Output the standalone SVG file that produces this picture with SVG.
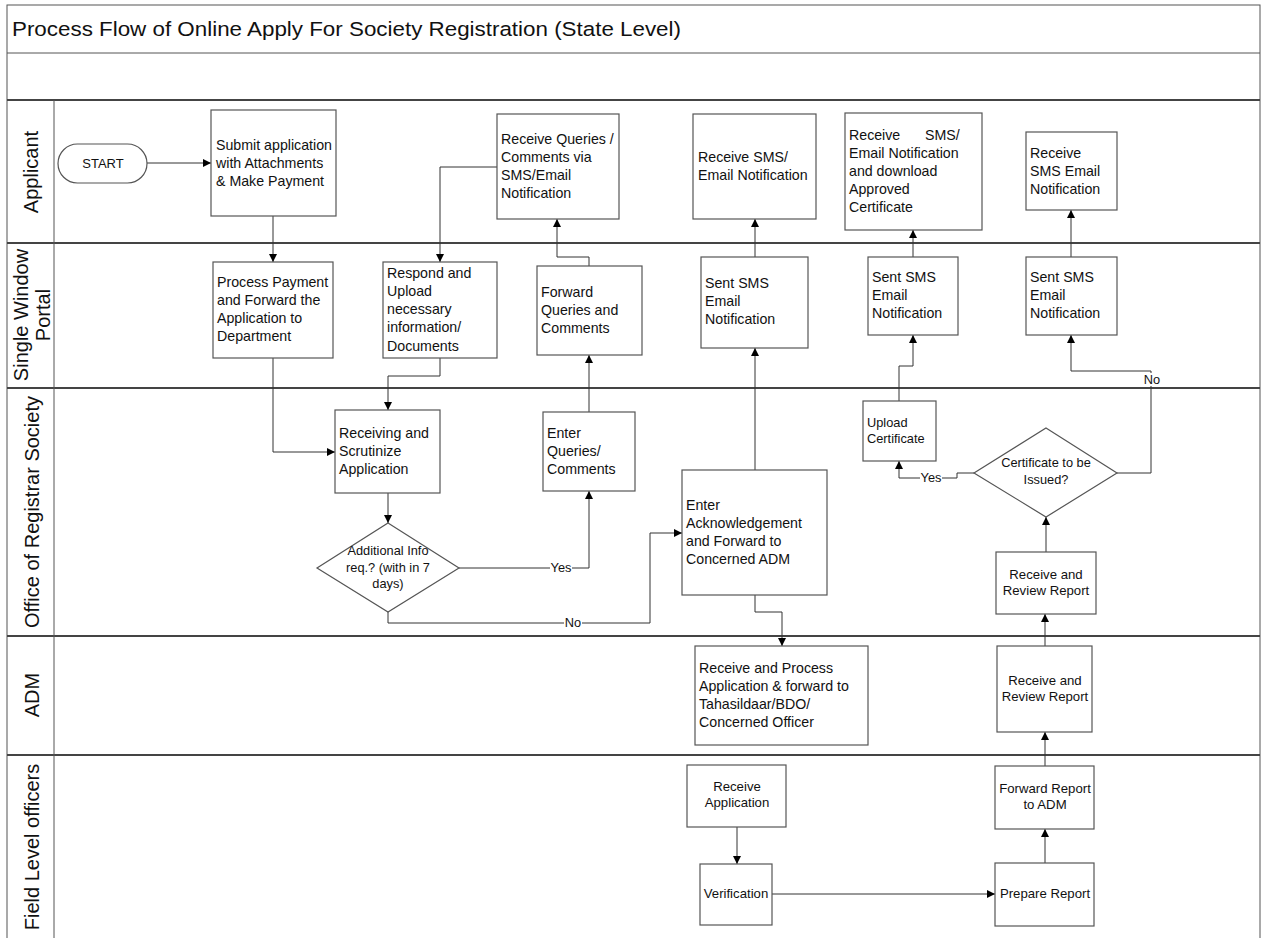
<svg xmlns="http://www.w3.org/2000/svg" width="1263" height="938" viewBox="0 0 1263 938">
<style>
text{font-family:"Liberation Sans",Arial,sans-serif;fill:#111}
.t{font-size:14.2px}
.s{font-size:12.8px}
.m{font-size:13.2px}
.lane{font-size:20px}
.box{fill:#fff;stroke:#555;stroke-width:1.2}
.frame{fill:none;stroke:#555;stroke-width:1}
.sep{stroke:#444;stroke-width:2}
.con{fill:none;stroke:#333;stroke-width:1}
.lbl{fill:#fff}
</style>
<defs>
<marker id="arr" markerUnits="userSpaceOnUse" markerWidth="9" markerHeight="8" viewBox="0 0 10 10" refX="10" refY="5" orient="auto"><path d="M0,0 L10,5 L0,10 z" fill="#000"/></marker>
</defs>
<rect width="1263" height="938" fill="#fff"/>
<g id="frame">
<rect class="frame" x="7" y="5" width="1253" height="940"/>
<line class="frame" x1="7" y1="53" x2="1260" y2="53"/>
<line class="sep" x1="7" y1="100" x2="1260" y2="100"/>
<line class="sep" x1="7" y1="243" x2="1260" y2="243"/>
<line class="sep" x1="7" y1="388" x2="1260" y2="388"/>
<line class="sep" x1="7" y1="636" x2="1260" y2="636"/>
<line class="sep" x1="7" y1="755" x2="1260" y2="755"/>
<line class="frame" x1="54" y1="100" x2="54" y2="938"/>
<text x="12" y="36" style="font-size:20.5px" textLength="669" lengthAdjust="spacingAndGlyphs">Process Flow of Online Apply For Society Registration (State Level)</text>
</g>
<g id="lanes">
<text class="lane" transform="translate(38,172) rotate(-90)" text-anchor="middle">Applicant</text>
<text class="lane" transform="translate(28,315) rotate(-90)" text-anchor="middle">Single Window</text>
<text class="lane" transform="translate(50,315) rotate(-90)" text-anchor="middle">Portal</text>
<text class="lane" transform="translate(39,512) rotate(-90)" text-anchor="middle">Office of Registrar Society</text>
<text class="lane" transform="translate(39,695) rotate(-90)" text-anchor="middle">ADM</text>
<text class="lane" transform="translate(39,847) rotate(-90)" text-anchor="middle">Field Level officers</text>
</g>
<g id="connectors">
<path class="con" d="M147,163 H211" marker-end="url(#arr)"/>
<path class="con" d="M273,216 V262" marker-end="url(#arr)"/>
<path class="con" d="M273,358 V452 H335" marker-end="url(#arr)"/>
<path class="con" d="M497,167 H440 V262" marker-end="url(#arr)"/>
<path class="con" d="M440,358 V376 H388 V410" marker-end="url(#arr)"/>
<path class="con" d="M388,493 V523" marker-end="url(#arr)"/>
<path class="con" d="M459,568 H589 V491" marker-end="url(#arr)"/>
<path class="con" d="M388,612 V623 H650 V533 H682" marker-end="url(#arr)"/>
<path class="con" d="M589,412 V355" marker-end="url(#arr)"/>
<path class="con" d="M589,266 V257 H557 V219" marker-end="url(#arr)"/>
<path class="con" d="M755,470 V348" marker-end="url(#arr)"/>
<path class="con" d="M755,257 V219" marker-end="url(#arr)"/>
<path class="con" d="M755,595 V612 H782 V646" marker-end="url(#arr)"/>
<path class="con" d="M737,827 V864" marker-end="url(#arr)"/>
<path class="con" d="M772,894 H995" marker-end="url(#arr)"/>
<path class="con" d="M1045,863 V829" marker-end="url(#arr)"/>
<path class="con" d="M1045,766 V732" marker-end="url(#arr)"/>
<path class="con" d="M1045,646 V614" marker-end="url(#arr)"/>
<path class="con" d="M1046,552 V517" marker-end="url(#arr)"/>
<path class="con" d="M974,473 H957 V478 H899 V461" marker-end="url(#arr)"/>
<path class="con" d="M899,401 V366 H913 V335" marker-end="url(#arr)"/>
<path class="con" d="M913,257 V230" marker-end="url(#arr)"/>
<path class="con" d="M1117,473 H1151 V371 H1071 V335" marker-end="url(#arr)"/>
<path class="con" d="M1071,257 V210" marker-end="url(#arr)"/>
<rect class="lbl" x="550" y="561" width="22" height="14"/>
<text class="s" x="561" y="572" text-anchor="middle">Yes</text>
<rect class="lbl" x="564" y="616" width="18" height="14"/>
<text class="s" x="573" y="627" text-anchor="middle">No</text>
<rect class="lbl" x="920" y="471" width="22" height="14"/>
<text class="s" x="931" y="482" text-anchor="middle">Yes</text>
<rect class="lbl" x="1143" y="373" width="18" height="13"/>
<text class="s" x="1152" y="384" text-anchor="middle">No</text>
</g>
<g id="start">
<rect class="box" x="58" y="144" width="89" height="39" rx="19.5"/>
<text x="103" y="168" text-anchor="middle" style="font-size:13px">START</text>
</g>
<g id="submit">
<rect class="box" x="211" y="110" width="125" height="106"/>
<text class="t" x="216" y="150">Submit application</text>
<text class="t" x="216" y="168">with Attachments</text>
<text class="t" x="216" y="186">&amp; Make Payment</text>
</g>
<g id="receive-queries">
<rect class="box" x="497" y="114" width="122" height="105"/>
<text class="t" x="501" y="144">Receive Queries /</text>
<text class="t" x="501" y="162">Comments via</text>
<text class="t" x="501" y="180">SMS/Email</text>
<text class="t" x="501" y="198">Notification</text>
</g>
<g id="receive-sms-1">
<rect class="box" x="693" y="114" width="123" height="105"/>
<text class="t" x="698" y="162">Receive SMS/</text>
<text class="t" x="698" y="180">Email Notification</text>
</g>
<g id="receive-download">
<rect class="box" x="845" y="113" width="137" height="117"/>
<text class="t" x="849" y="140"><tspan x="849">Receive </tspan><tspan x="925">SMS/</tspan></text>
<text class="t" x="849" y="158">Email Notification</text>
<text class="t" x="849" y="176">and download</text>
<text class="t" x="849" y="194">Approved</text>
<text class="t" x="849" y="212">Certificate</text>
</g>
<g id="receive-sms-3">
<rect class="box" x="1026" y="132" width="91" height="78"/>
<text class="t" x="1030" y="158">Receive</text>
<text class="t" x="1030" y="176">SMS Email</text>
<text class="t" x="1030" y="194">Notification</text>
</g>
<g id="process-payment">
<rect class="box" x="213" y="262" width="120" height="96"/>
<text class="t" x="217" y="287">Process Payment</text>
<text class="t" x="217" y="305">and Forward the</text>
<text class="t" x="217" y="323">Application to</text>
<text class="t" x="217" y="341">Department</text>
</g>
<g id="respond">
<rect class="box" x="383" y="262" width="114" height="96"/>
<text class="t" x="387" y="278">Respond and</text>
<text class="t" x="387" y="296">Upload</text>
<text class="t" x="387" y="314">necessary</text>
<text class="t" x="387" y="332">information/</text>
<text class="t" x="387" y="351">Documents</text>
</g>
<g id="forward-queries">
<rect class="box" x="537" y="266" width="105" height="89"/>
<text class="t" x="541" y="297">Forward</text>
<text class="t" x="541" y="315">Queries and</text>
<text class="t" x="541" y="333">Comments</text>
</g>
<g id="sent-sms-1">
<rect class="box" x="701" y="257" width="107" height="91"/>
<text class="t" x="705" y="288">Sent SMS</text>
<text class="t" x="705" y="306">Email</text>
<text class="t" x="705" y="324">Notification</text>
</g>
<g id="sent-sms-2">
<rect class="box" x="868" y="257" width="90" height="78"/>
<text class="t" x="872" y="282">Sent SMS</text>
<text class="t" x="872" y="300">Email</text>
<text class="t" x="872" y="318">Notification</text>
</g>
<g id="sent-sms-3">
<rect class="box" x="1026" y="257" width="91" height="78"/>
<text class="t" x="1030" y="282">Sent SMS</text>
<text class="t" x="1030" y="300">Email</text>
<text class="t" x="1030" y="318">Notification</text>
</g>
<g id="receiving">
<rect class="box" x="335" y="410" width="105" height="83"/>
<text class="t" x="339" y="438">Receiving and</text>
<text class="t" x="339" y="456">Scrutinize</text>
<text class="t" x="339" y="474">Application</text>
</g>
<g id="additional-info">
<polygon class="box" points="388,523 459,568 388,612 317,568"/>
<text class="s" x="388" y="555" text-anchor="middle">Additional Info</text>
<text class="s" x="388" y="572" text-anchor="middle">req.? (with in 7</text>
<text class="s" x="388" y="588" text-anchor="middle">days)</text>
</g>
<g id="enter-queries">
<rect class="box" x="543" y="412" width="92" height="79"/>
<text class="t" x="547" y="438">Enter</text>
<text class="t" x="547" y="456">Queries/</text>
<text class="t" x="547" y="474">Comments</text>
</g>
<g id="enter-ack">
<rect class="box" x="682" y="470" width="145" height="125"/>
<text class="t" x="686" y="510">Enter</text>
<text class="t" x="686" y="528">Acknowledgement</text>
<text class="t" x="686" y="546">and Forward to</text>
<text class="t" x="686" y="564">Concerned ADM</text>
</g>
<g id="upload-certificate">
<rect class="box" x="863" y="401" width="73" height="60"/>
<text class="s" x="867" y="427">Upload</text>
<text class="s" x="867" y="443">Certificate</text>
</g>
<g id="certificate-issued">
<polygon class="box" points="1046,428 1117,473 1046,517 974,473"/>
<text class="s" x="1046" y="467" text-anchor="middle">Certificate to be</text>
<text class="s" x="1046" y="484" text-anchor="middle">Issued?</text>
</g>
<g id="office-review">
<rect class="box" x="996" y="552" width="100" height="62"/>
<text class="m" x="1046" y="579" text-anchor="middle">Receive and</text>
<text class="m" x="1046" y="595" text-anchor="middle">Review Report</text>
</g>
<g id="adm-process">
<rect class="box" x="695" y="646" width="173" height="99"/>
<text class="t" x="699" y="673">Receive and Process</text>
<text class="t" x="699" y="691">Application &amp; forward to</text>
<text class="t" x="699" y="709">Tahasildaar/BDO/</text>
<text class="t" x="699" y="727">Concerned Officer</text>
</g>
<g id="adm-review">
<rect class="box" x="997" y="646" width="95" height="86"/>
<text class="m" x="1045" y="685" text-anchor="middle">Receive and</text>
<text class="m" x="1045" y="701" text-anchor="middle">Review Report</text>
</g>
<g id="receive-application">
<rect class="box" x="687" y="765" width="99" height="62"/>
<text class="m" x="737" y="791" text-anchor="middle">Receive</text>
<text class="m" x="737" y="807" text-anchor="middle">Application</text>
</g>
<g id="verification">
<rect class="box" x="700" y="864" width="72" height="61"/>
<text class="m" x="736" y="898" text-anchor="middle">Verification</text>
</g>
<g id="prepare-report">
<rect class="box" x="995" y="863" width="99" height="63"/>
<text class="m" x="1045" y="898" text-anchor="middle">Prepare Report</text>
</g>
<g id="forward-report">
<rect class="box" x="995" y="766" width="99" height="63"/>
<text class="m" x="1045" y="793" text-anchor="middle">Forward Report</text>
<text class="m" x="1045" y="809" text-anchor="middle">to ADM</text>
</g>
</svg>
